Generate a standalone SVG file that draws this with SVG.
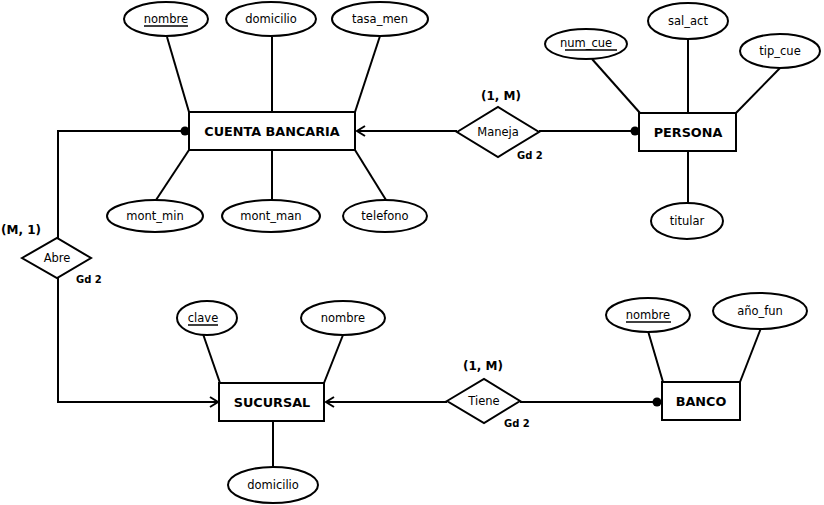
<svg xmlns="http://www.w3.org/2000/svg" width="824" height="505" viewBox="0 0 824 505">
<style>
.e{fill:#fff;stroke:#000;stroke-width:2}
.r{fill:#fff;stroke:#000;stroke-width:2}
.l{fill:none;stroke:#000;stroke-width:2}
.t{font-family:"DejaVu Sans",Verdana,sans-serif;font-size:11.5px;text-anchor:middle;fill:#000}
.b{font-family:"DejaVu Sans",Verdana,sans-serif;font-size:12.8px;font-weight:bold;text-anchor:middle;fill:#000}
.c{font-family:"DejaVu Sans",Verdana,sans-serif;font-size:12px;font-weight:bold;text-anchor:middle;fill:#000}
.g{font-family:"DejaVu Sans",Verdana,sans-serif;font-size:10px;font-weight:bold;fill:#000}
.u{stroke:#000;stroke-width:1.5}
</style>
<defs>
<marker id="arr" markerWidth="12" markerHeight="12" refX="10" refY="6" orient="auto" markerUnits="userSpaceOnUse">
<path d="M2,1 L10,6 L2,11" fill="none" stroke="#000" stroke-width="2"/>
</marker>
</defs>
<rect width="824" height="505" fill="#fff"/>
<g id="connectors">
<line class="l" x1="167" y1="37" x2="189" y2="112"/>
<line class="l" x1="272" y1="37" x2="272" y2="112"/>
<line class="l" x1="380" y1="36" x2="355" y2="112"/>
<line class="l" x1="189" y1="150" x2="156" y2="200"/>
<line class="l" x1="272" y1="150" x2="272" y2="200"/>
<line class="l" x1="355" y1="150" x2="386" y2="200"/>
<line class="l" x1="592" y1="59" x2="640" y2="113"/>
<line class="l" x1="688" y1="39" x2="688" y2="113"/>
<line class="l" x1="781" y1="67" x2="736" y2="113"/>
<line class="l" x1="688" y1="151" x2="688" y2="203"/>
<line class="l" x1="203" y1="334" x2="220" y2="383"/>
<line class="l" x1="343" y1="335" x2="324" y2="383"/>
<line class="l" x1="273" y1="421" x2="273" y2="467"/>
<line class="l" x1="648" y1="331" x2="663" y2="382"/>
<line class="l" x1="761" y1="328" x2="740" y2="382"/>
<polyline class="l" points="189,131 58,131 58,238"/>
<polyline class="l" points="58,278 58,402 218,402" marker-end="url(#arr)"/>
<line class="l" x1="457" y1="131" x2="357" y2="131" marker-end="url(#arr)"/>
<line class="l" x1="539" y1="131" x2="640" y2="131"/>
<line class="l" x1="447" y1="402" x2="326" y2="402" marker-end="url(#arr)"/>
<line class="l" x1="520" y1="402" x2="662" y2="402"/>
<circle cx="185" cy="131" r="4.5" fill="#000"/>
<circle cx="635" cy="131" r="4.5" fill="#000"/>
<circle cx="657" cy="402" r="4.5" fill="#000"/>
</g>
<g id="cuenta">
<rect class="r" x="189" y="112" width="166" height="38"/>
<text class="b" x="272" y="136">CUENTA BANCARIA</text>
</g>
<g id="cuenta-nombre"><ellipse class="e" cx="166" cy="19" rx="42" ry="17"/><text class="t" x="166" y="23">nombre</text><line class="u" x1="144" y1="26" x2="188" y2="26"/></g>
<g id="cuenta-domicilio"><ellipse class="e" cx="271" cy="19" rx="45" ry="17"/><text class="t" x="271" y="23">domicilio</text></g>
<g id="tasa_men"><ellipse class="e" cx="380" cy="19" rx="48" ry="17"/><text class="t" x="380" y="23">tasa_men</text></g>
<g id="mont_min"><ellipse class="e" cx="155" cy="216" rx="48" ry="16"/><text class="t" x="155" y="220">mont_min</text></g>
<g id="mont_man"><ellipse class="e" cx="271" cy="216" rx="49" ry="16"/><text class="t" x="271" y="220">mont_man</text></g>
<g id="telefono"><ellipse class="e" cx="385" cy="216" rx="42" ry="16"/><text class="t" x="385" y="220">telefono</text></g>
<g id="maneja">
<polygon class="r" points="457,132 498,107 539,132 498,157"/>
<text class="t" x="498" y="136">Maneja</text>
<text class="c" x="501" y="100">(1, M)</text>
<text class="g" x="517" y="159">Gd 2</text>
</g>
<g id="persona">
<rect class="r" x="639" y="113" width="97" height="38"/>
<text class="b" x="688" y="137">PERSONA</text>
</g>
<g id="num_cue"><ellipse class="e" cx="586" cy="44" rx="41" ry="15"/><text class="t" x="586" y="47">num_cue</text><line class="u" x1="565" y1="50" x2="617" y2="50"/></g>
<g id="sal_act"><ellipse class="e" cx="688" cy="21" rx="40" ry="18"/><text class="t" x="688" y="25">sal_act</text></g>
<g id="tip_cue"><ellipse class="e" cx="780" cy="51" rx="40" ry="17"/><text class="t" x="780" y="55">tip_cue</text></g>
<g id="titular"><ellipse class="e" cx="687" cy="221" rx="36" ry="18"/><text class="t" x="687" y="225">titular</text></g>
<g id="abre">
<polygon class="r" points="22,258 57,238 91,258 57,278"/>
<text class="t" x="57" y="262">Abre</text>
<text class="c" x="21" y="234">(M, 1)</text>
<text class="g" x="76" y="283">Gd 2</text>
</g>
<g id="sucursal">
<rect class="r" x="219" y="383" width="105" height="38"/>
<text class="b" x="272" y="407">SUCURSAL</text>
</g>
<g id="clave"><ellipse class="e" cx="207" cy="318" rx="30" ry="17"/><text class="t" x="203" y="322">clave</text><line class="u" x1="188" y1="325" x2="218" y2="325"/></g>
<g id="sucursal-nombre"><ellipse class="e" cx="343" cy="318" rx="42" ry="17"/><text class="t" x="343" y="322">nombre</text></g>
<g id="sucursal-domicilio"><ellipse class="e" cx="273" cy="485" rx="45" ry="18"/><text class="t" x="273" y="489">domicilio</text></g>
<g id="tiene">
<polygon class="r" points="447,401 484,379 520,401 484,423"/>
<text class="t" x="484" y="405">Tiene</text>
<text class="c" x="483" y="370">(1, M)</text>
<text class="g" x="504" y="427">Gd 2</text>
</g>
<g id="banco">
<rect class="r" x="662" y="382" width="78" height="38"/>
<text class="b" x="701" y="406">BANCO</text>
</g>
<g id="banco-nombre"><ellipse class="e" cx="648" cy="315" rx="42" ry="17"/><text class="t" x="648" y="319">nombre</text><line class="u" x1="626" y1="322" x2="671" y2="322"/></g>
<g id="ano_fun"><ellipse class="e" cx="760" cy="311" rx="47" ry="18"/><text class="t" x="760" y="315">año_fun</text></g>
</svg>
